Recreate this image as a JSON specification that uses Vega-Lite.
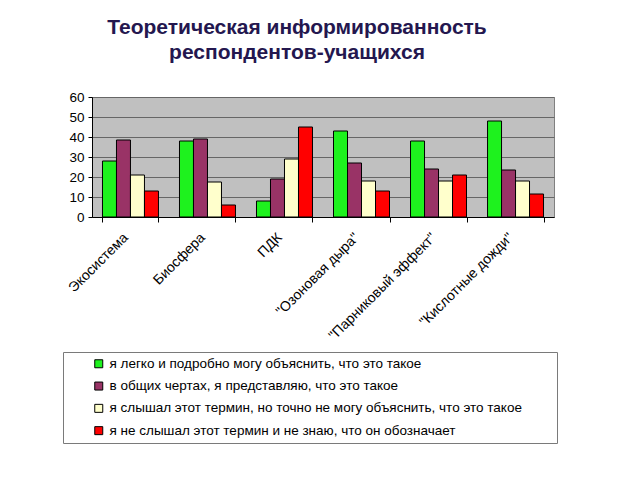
{
  "$schema": "https://vega.github.io/schema/vega-lite/v6.json",
  "autosize": {"type": "none"},
  "width": 462,
  "height": 120,
  "padding": {"left": 92, "top": 97, "right": 86, "bottom": 263},
  "background": "white",
  "title": {
    "text": ["Теоретическая информированность", "респондентов-учащихся"],
    "font": "Liberation Sans",
    "fontSize": 21,
    "fontWeight": "bold",
    "color": "#24174f",
    "anchor": "middle",
    "dx": -26,
    "offset": 27,
    "lineHeight": 25
  },
  "data": {
    "values": [
      {"term": "Экосистема", "answer": "я легко и подробно могу объяснить, что это такое", "pct": 28},
      {"term": "Экосистема", "answer": "в общих чертах, я представляю, что это такое", "pct": 38.5},
      {"term": "Экосистема", "answer": "я слышал этот термин, но точно не могу объяснить, что это такое", "pct": 21},
      {"term": "Экосистема", "answer": "я не слышал этот термин и не знаю, что он обозначает", "pct": 13},
      {"term": "Биосфера", "answer": "я легко и подробно могу объяснить, что это такое", "pct": 38},
      {"term": "Биосфера", "answer": "в общих чертах, я представляю, что это такое", "pct": 39},
      {"term": "Биосфера", "answer": "я слышал этот термин, но точно не могу объяснить, что это такое", "pct": 17.5},
      {"term": "Биосфера", "answer": "я не слышал этот термин и не знаю, что он обозначает", "pct": 6},
      {"term": "ПДК", "answer": "я легко и подробно могу объяснить, что это такое", "pct": 8},
      {"term": "ПДК", "answer": "в общих чертах, я представляю, что это такое", "pct": 19},
      {"term": "ПДК", "answer": "я слышал этот термин, но точно не могу объяснить, что это такое", "pct": 29},
      {"term": "ПДК", "answer": "я не слышал этот термин и не знаю, что он обозначает", "pct": 45},
      {"term": "\"Озоновая дыра\"", "answer": "я легко и подробно могу объяснить, что это такое", "pct": 43},
      {"term": "\"Озоновая дыра\"", "answer": "в общих чертах, я представляю, что это такое", "pct": 27},
      {"term": "\"Озоновая дыра\"", "answer": "я слышал этот термин, но точно не могу объяснить, что это такое", "pct": 18},
      {"term": "\"Озоновая дыра\"", "answer": "я не слышал этот термин и не знаю, что он обозначает", "pct": 13},
      {"term": "\"Парниковый эффект\"", "answer": "я легко и подробно могу объяснить, что это такое", "pct": 38},
      {"term": "\"Парниковый эффект\"", "answer": "в общих чертах, я представляю, что это такое", "pct": 24},
      {"term": "\"Парниковый эффект\"", "answer": "я слышал этот термин, но точно не могу объяснить, что это такое", "pct": 18},
      {"term": "\"Парниковый эффект\"", "answer": "я не слышал этот термин и не знаю, что он обозначает", "pct": 21},
      {"term": "\"Кислотные дожди\"", "answer": "я легко и подробно могу объяснить, что это такое", "pct": 48},
      {"term": "\"Кислотные дожди\"", "answer": "в общих чертах, я представляю, что это такое", "pct": 23.5},
      {"term": "\"Кислотные дожди\"", "answer": "я слышал этот термин, но точно не могу объяснить, что это такое", "pct": 18},
      {"term": "\"Кислотные дожди\"", "answer": "я не слышал этот термин и не знаю, что он обозначает", "pct": 11.5}
    ]
  },
  "mark": {"type": "bar", "stroke": "black", "strokeWidth": 1},
  "encoding": {
    "x": {
      "field": "term",
      "type": "nominal",
      "sort": null,
      "scale": {"paddingInner": 0.273, "paddingOuter": 0.136},
      "axis": {
        "title": null,
        "labelAngle": -45,
        "labelAlign": "right",
        "labelBaseline": "bottom",
        "labelFont": "Liberation Sans",
        "labelFontSize": 14,
        "labelColor": "black",
        "tickBand": "extent",
        "tickColor": "black",
        "tickSize": 5,
        "domainColor": "black",
        "labelPadding": 18
      }
    },
    "xOffset": {
      "field": "answer",
      "type": "nominal",
      "sort": [
        "я легко и подробно могу объяснить, что это такое",
        "в общих чертах, я представляю, что это такое",
        "я слышал этот термин, но точно не могу объяснить, что это такое",
        "я не слышал этот термин и не знаю, что он обозначает"
      ],
      "scale": {"paddingInner": 0, "paddingOuter": 0}
    },
    "y": {
      "field": "pct",
      "type": "quantitative",
      "scale": {"domain": [0, 60], "nice": false},
      "axis": {
        "title": null,
        "values": [0, 10, 20, 30, 40, 50, 60],
        "grid": true,
        "gridColor": "#666666",
        "gridOpacity": 1,
        "tickColor": "black",
        "tickSize": 4,
        "domainColor": "black",
        "labelFont": "Liberation Sans",
        "labelFontSize": 13.5,
        "labelColor": "black",
        "labelPadding": 4
      }
    },
    "color": {
      "field": "answer",
      "type": "nominal",
      "scale": {
        "domain": [
          "я легко и подробно могу объяснить, что это такое",
          "в общих чертах, я представляю, что это такое",
          "я слышал этот термин, но точно не могу объяснить, что это такое",
          "я не слышал этот термин и не знаю, что он обозначает"
        ],
        "range": ["#1ef21e", "#993366", "#ffffcc", "#ff0000"]
      },
      "legend": {
        "orient": "none",
        "legendX": -29,
        "legendY": 255,
        "direction": "vertical",
        "title": null,
        "labelExpr": "datum.label + '\u2800\u2800\u2800'",
        "strokeColor": "#7a7a7a",
        "fillColor": "white",
        "padding": 5,
        "symbolType": "square",
        "symbolSize": 64,
        "symbolOffset": 24,
        "labelOffset": 4,
        "symbolStrokeColor": "black",
        "symbolStrokeWidth": 1,
        "symbolOpacity": 1,
        "labelFont": "Liberation Sans",
        "labelFontSize": 13.5,
        "labelColor": "black",
        "labelLimit": 0,
        "rowPadding": 7.3
      }
    }
  },
  "config": {
    "view": {"fill": "#c0c0c0", "stroke": "#808080"}
  }
}
